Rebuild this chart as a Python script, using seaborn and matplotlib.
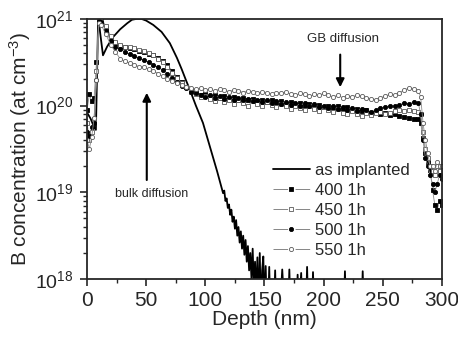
import numpy as np
import pandas as pd
import matplotlib
matplotlib.use('Agg')
import matplotlib.pyplot as plt
import seaborn as sns
from matplotlib.ticker import LogLocator, MultipleLocator
from matplotlib.lines import Line2D

sns.set_style('ticks')
plt.rcParams['font.family'] = ['Liberation Sans', 'DejaVu Sans']
plt.rcParams['mathtext.default'] = 'regular'

# as implanted profile (depth nm, log10 of concentration)
impl_depth = [0, 3, 6, 7.5, 9.5, 11, 13.5, 17, 22, 28, 34, 38, 42, 46, 50, 56, 63, 70, 76, 80,
              84, 87, 92, 98, 104, 110, 115,
              116, 117, 118, 119, 120, 121, 122, 123, 124, 125, 126, 127, 128, 129, 130,
              131, 132, 133, 134, 135, 136, 137, 138, 139, 140, 141, 142, 143, 144, 145,
              146, 147, 148, 149, 150, 151, 152, 153, 154, 155, 156, 158, 159, 160, 163,
              165, 167, 170, 171, 172, 177, 178, 179, 181, 182, 185, 186, 187, 190, 191,
              192, 217, 218, 219, 232, 233, 234, 300]
impl_log = [19.92, 19.85, 19.75, 19.72, 21.05, 20.85, 20.58, 20.68, 20.79, 20.88, 20.95, 20.99,
            21.0, 21.0, 20.98, 20.93, 20.85, 20.72, 20.55, 20.42,
            20.28, 20.18, 20.0, 19.80, 19.52, 19.24, 18.99,
            19.02, 18.90, 18.93, 18.82, 18.86, 18.74, 18.80, 18.66, 18.72, 18.58, 18.68,
            18.50, 18.60, 18.42, 18.55, 18.35, 18.50, 18.28, 18.45, 18.20, 18.38, 18.10,
            18.30, 18.00, 18.35, 17.90, 18.20, 17.80, 18.25, 17.60,
            18.30, 17.60, 18.10, 18.26, 17.60, 18.15, 17.60, 17.60, 18.14, 17.60, 17.60,
            17.60, 18.10, 17.60, 17.60,
            18.11, 17.60, 17.60, 18.11, 17.60, 17.60, 18.05, 17.60, 18.07, 17.60, 17.60,
            18.14, 17.60, 17.60, 18.08,
            17.60, 17.60, 18.09, 17.60, 17.60, 18.09, 17.60, 17.60]

# annealed profiles, shared depth grid
ann_depth = np.concatenate([[0, 2, 4, 6, 8, 10], np.arange(12, 281, 4),
                            [282, 284, 286, 288, 290, 292, 294, 296, 298, 300]])

log_400 = [19.95, 20.13, 20.05, 20.09, 20.5, 21.0,
           20.98, 20.9, 20.78, 20.72, 20.69, 20.67, 20.66, 20.65, 20.63, 20.62, 20.6, 20.58,
           20.55, 20.51, 20.47, 20.4, 20.33, 20.27, 20.22, 20.17, 20.14, 20.12, 20.13, 20.1,
           20.12, 20.09, 20.11, 20.08, 20.1, 20.07, 20.09, 20.06, 20.08, 20.05, 20.07, 20.04,
           20.06, 20.03, 20.05, 20.02, 20.04, 20.01, 20.03, 20.0, 20.02, 19.99, 20.01, 19.98,
           20.0, 19.97, 19.99, 19.96, 19.98, 19.95, 19.96, 19.94, 19.95, 19.92, 19.93, 19.9,
           19.91, 19.89, 19.9, 19.88, 19.87, 19.86, 19.85, 19.84,
           19.8, 19.63, 19.45, 19.35, 19.26, 19.03, 18.85, 18.8, 18.9, 18.85]
log_450 = [19.8, 19.6, 19.7, 19.85, 20.4, 21.0,
           21.0, 20.92, 20.8, 20.73, 20.7, 20.68, 20.67, 20.66, 20.64, 20.63, 20.61, 20.58,
           20.54, 20.5, 20.44, 20.38, 20.32, 20.26, 20.21, 20.16, 20.13, 20.1, 20.11, 20.08,
           20.05, 20.09, 20.04, 20.07, 20.02, 20.06, 20.03, 20.0, 20.05, 20.02, 19.99, 20.04,
           20.01, 19.98, 20.02, 19.99, 19.96, 20.0, 19.97, 19.95, 19.99, 19.96, 19.94, 19.98,
           19.95, 19.93, 19.96, 19.92, 19.9, 19.94, 19.9, 19.88, 19.92, 19.89, 19.91, 19.93,
           19.9, 19.92, 19.94, 19.95, 19.94, 19.95, 19.94, 19.93,
           19.9, 19.7, 19.5, 19.4, 19.3, 19.25, 19.2, 19.3, 19.25, 19.3]
log_500 = [19.7, 19.65, 19.75, 19.8, 20.3, 20.98,
           20.96, 20.86, 20.74, 20.68, 20.65, 20.62, 20.59, 20.57, 20.55, 20.52, 20.5, 20.47,
           20.44, 20.41, 20.37, 20.32, 20.27, 20.23, 20.2, 20.16, 20.14, 20.12, 20.1, 20.12,
           20.09, 20.11, 20.08, 20.1, 20.07, 20.09, 20.06, 20.08, 20.05, 20.07, 20.04, 20.06,
           20.03, 20.05, 20.02, 20.04, 20.01, 20.03, 20.0, 20.03, 19.99, 20.02, 19.98, 20.0,
           19.97, 19.99, 19.96, 19.98, 19.95, 19.97, 19.94, 19.96, 19.95, 19.93, 19.95, 19.97,
           19.98, 20.0, 19.99, 20.01, 20.03, 20.02, 20.04, 20.03,
           19.9, 19.6, 19.4, 19.3, 19.2, 19.1, 19.0, 19.1, 19.2, 19.15]
log_550 = [19.6, 19.5, 19.64, 19.86, 20.3, 20.95,
           20.93, 20.82, 20.7, 20.62, 20.54, 20.51, 20.49, 20.47, 20.45, 20.44, 20.42, 20.4,
           20.37, 20.34, 20.31, 20.28, 20.26, 20.24, 20.22, 20.2, 20.19, 20.2, 20.18, 20.19,
           20.17, 20.19, 20.18, 20.16, 20.18, 20.17, 20.15, 20.17, 20.16, 20.14, 20.16, 20.15,
           20.13, 20.15, 20.14, 20.16, 20.13, 20.12, 20.14, 20.13, 20.11, 20.13, 20.12, 20.14,
           20.12, 20.1, 20.12, 20.09, 20.11, 20.1, 20.12, 20.11, 20.09, 20.08, 20.07, 20.09,
           20.11, 20.13, 20.12, 20.15, 20.18, 20.2, 20.19, 20.17,
           20.1, 19.8, 19.6, 19.45, 19.3, 19.3, 19.25, 19.35, 19.3, 19.3]

fig = plt.figure(figsize=(4.58, 3.37), dpi=100)
ax = fig.add_axes([0.19, 0.172, 0.775, 0.772])

sns.lineplot(x=impl_depth, y=10 ** np.array(impl_log), ax=ax, color='k', lw=1.3,
             sort=False)

styles = [('400 1h', log_400, 's', 'k', 'k'),
          ('450 1h', log_450, 's', 'white', '0.35'),
          ('500 1h', log_500, 'o', 'k', 'k'),
          ('550 1h', log_550, 'o', 'white', '0.35')]
handles = [Line2D([], [], color='k', lw=1.3)]
labels = ['as implanted']
for name, vals, mk, fc, ec in styles:
    sns.lineplot(x=ann_depth, y=10 ** np.array(vals), ax=ax, color='0.55', lw=0.6,
                 marker=mk, markersize=3, markerfacecolor=fc, markeredgecolor=ec,
                 markeredgewidth=0.6, sort=False)
    # legend sample: dash - marker - dash, like the original
    dash = Line2D([], [], color='0.45', lw=0.6, linestyle=(0, (17.5, 9)))
    dot = Line2D([], [], ls='none', marker=mk, markersize=3, markerfacecolor=fc,
                 markeredgecolor=ec, markeredgewidth=0.6)
    handles.append((dash, dot))
    labels.append(name)

ax.set_yscale('log')
ax.set_xlim(0, 300)
ax.set_ylim(1e18, 1e21)
ax.xaxis.set_major_locator(MultipleLocator(50))
ax.xaxis.set_minor_locator(MultipleLocator(25))
ax.yaxis.set_major_locator(LogLocator(base=10))
ax.yaxis.set_minor_locator(LogLocator(base=10, subs=np.arange(2, 10)))
ax.yaxis.set_minor_formatter(plt.NullFormatter())
ax.tick_params(which='major', direction='out', length=5, width=1.2, labelsize=15)
ax.tick_params(which='minor', direction='out', length=3, width=1)
ax.tick_params(axis='y', which='major', labelsize=14, pad=4.5)
for s in ax.spines.values():
    s.set_linewidth(1.3)

ax.set_xlabel('Depth (nm)', fontsize=15, labelpad=0)
ax.set_ylabel('B concentration (at cm$^{-3}$)', fontsize=15, labelpad=2)

ax.annotate('', xy=(214, 10 ** 20.18), xytext=(214, 10 ** 20.62),
            arrowprops=dict(arrowstyle='-|>', color='k', lw=1.5, mutation_scale=12))
ax.text(216, 10 ** 20.77, 'GB diffusion', fontsize=9.5, ha='center', va='center')
ax.annotate('', xy=(50.5, 10 ** 20.18), xytext=(50.5, 10 ** 19.11),
            arrowprops=dict(arrowstyle='-|>', color='k', lw=1.5, mutation_scale=12))
ax.text(55, 10 ** 18.98, 'bulk diffusion', fontsize=9, ha='center', va='center')

ax.legend(handles, labels, loc='center left', bbox_to_anchor=(0.524, 0.265),
          frameon=False, fontsize=12, handlelength=2.2, handletextpad=0.3,
          labelspacing=0.3, borderpad=0, borderaxespad=0)

fig.savefig('out.png', dpi=100)
